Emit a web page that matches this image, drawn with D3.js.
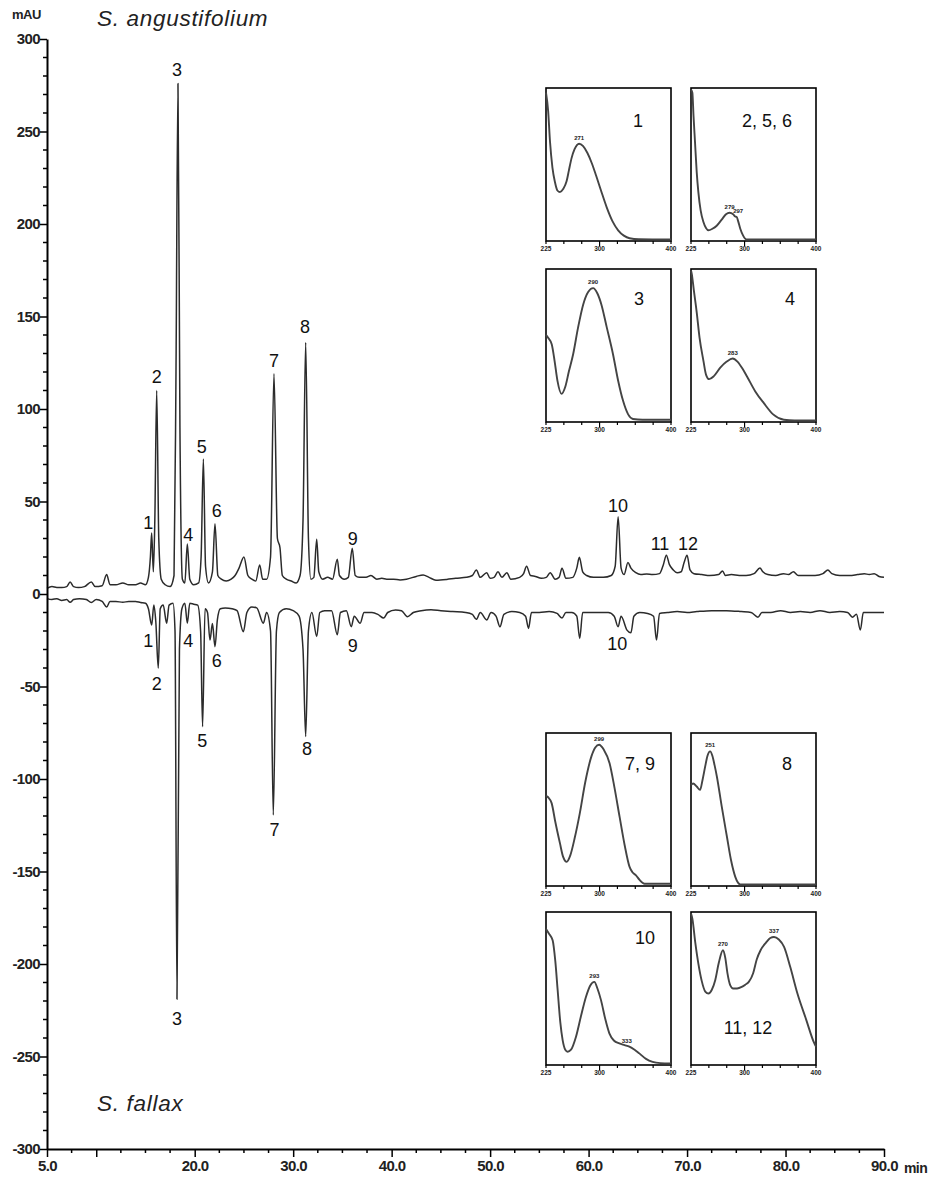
<!DOCTYPE html>
<html>
<head>
<meta charset="utf-8">
<script src="https://cdn.jsdelivr.net/npm/d3@7"></script>
<style>
  html, body { margin: 0; padding: 0; background: #fff; }
  svg { display: block; }
  text { font-family: "Liberation Sans", Arial, sans-serif; }
</style>
</head>
<body>
<svg id="chart" width="936" height="1186"></svg>
<script>
// ---------------- DATA ----------------
// Retention-time ticks (min)
const xMajorTicks = [5, 10, 20, 30, 40, 50, 60, 70, 80, 90];
const xTickLabels = ["5.0", "", "20.0", "30.0", "40.0", "50.0", "60.0", "70.0", "80.0", "90.0"];
const yMajorTicks = [-300, -250, -200, -150, -100, -50, 0, 50, 100, 150, 200, 250, 300];
const yTickLabels = ["-300", "-250", "-200", "-150", "-100", "-50", "0", "50", "100", "150", "200", "250", "300"];

// S. angustifolium chromatogram [time (min), mAU]
const angustifolium = [
  [5.0,3],[5.5,4],[6.0,3.5],[6.5,3.5],[7.0,4],[7.35,6.5],[7.7,4],[8.2,3.5],[8.8,4],[9.5,6.5],[9.9,4],
  [10.6,4.5],[11.06,10.5],[11.4,5],[12,5],[12.7,6],[13.3,5],[14.0,5],[14.5,6],[15.0,5],[15.3,9],[15.5,20],
  [15.63,33],[15.8,12],[15.95,40],[16.14,110],[16.35,30],[16.6,8],[17.0,5],[17.5,4],[17.9,10],[18.1,120],
  [18.3,276],[18.5,90],[18.75,8],[19.0,6],[19.25,27],[19.5,8],[19.9,5],[20.4,6],[20.65,20],[20.88,73],
  [21.1,15],[21.4,6],[21.8,12],[22.06,38],[22.35,10],[22.7,8],[23.2,7],[23.7,8],[24.1,10],[24.5,14],
  [25.0,20],[25.4,10],[25.8,8],[26.2,7],[26.6,15.7],[26.9,8],[27.3,8],[27.7,20],[28.05,119],[28.4,30],
  [28.66,25],[28.9,10],[29.3,8],[29.8,7],[30.3,6],[30.7,10],[31.0,40],[31.27,136],[31.55,30],[31.8,8],
  [32.1,9],[32.39,29.6],[32.6,12],[33.0,8],[33.5,9],[34.0,8],[34.48,18.8],[34.7,10],[35.2,8],[35.6,9],
  [36.0,24.7],[36.3,10],[36.7,9],[37.4,9],[37.9,10],[38.5,8],[39.0,8.5],[39.5,8],[40.2,8],[40.85,7.6],
  [41.5,8],[42.5,9.5],[43.2,10.3],[43.8,9],[44.5,7.5],[45.6,7.9],[46.5,8.5],[47.6,9],[48.2,10],[48.6,13],
  [49.0,9],[49.65,11.5],[50.0,8.5],[50.4,9],[50.8,12],[51.2,9],[51.7,11.5],[52.1,8],[53.0,9],[53.4,11],
  [53.7,15],[54.1,10],[54.6,9.5],[55.2,8.5],[55.7,9],[56.1,11.5],[56.6,8],[57.0,9],[57.3,13.9],[57.7,8.5],
  [58.4,9],[58.8,14],[59.06,19.8],[59.4,12],[59.8,10],[60.5,9],[61.5,9],[62.3,10],[62.7,15],[63.0,41.8],
  [63.3,14],[63.6,10.5],[64.0,17],[64.3,14],[64.8,11.5],[65.3,10.5],[65.9,10.8],[66.5,10.5],[67.2,11],
  [67.6,16],[67.9,21],[68.2,16],[68.6,13],[69.0,11.5],[69.4,12],[69.7,17],[70.0,21],[70.3,13],[70.7,11],
  [71.5,10.5],[72.3,10],[73.2,10.5],[73.6,12.5],[73.9,10],[74.5,10.5],[75.3,10],[76.0,10],[76.8,11],
  [77.4,14],[77.7,12],[78.2,10.5],[79.0,10],[79.8,11],[80.3,10.5],[80.8,12],[81.3,10],[82.0,10],[83.0,10],
  [83.8,11],[84.3,13],[84.7,11],[85.5,10],[86.5,10],[87.3,10.5],[88.0,11],[88.5,10.5],[89.0,11],[89.5,9.5],[90.0,9]
];

// S. fallax chromatogram (mirrored, negative) [time (min), mAU]
const fallax = [
  [5.0,-2.5],[5.5,-3],[6.0,-2.5],[6.5,-3.5],[7.0,-3],[7.35,-4.5],[7.7,-3],[8.3,-2.5],[9.0,-3],[9.5,-4.6],
  [10.0,-3],[10.6,-4],[11.06,-7],[11.4,-4],[12.0,-4],[12.7,-4.5],[13.3,-4],[14.0,-4],[14.5,-4.6],[15.0,-5],
  [15.3,-8],[15.63,-16.8],[15.85,-6],[16.05,-15],[16.3,-40],[16.5,-8],[16.8,-6],[17.15,-15.8],[17.4,-6],
  [17.8,-5],[18.0,-20],[18.2,-219],[18.45,-30],[18.7,-8],[19.0,-5],[19.25,-15.8],[19.5,-5],[19.9,-5.5],
  [20.3,-6],[20.6,-20],[20.8,-71.7],[21.05,-8],[21.3,-10],[21.55,-24.9],[21.8,-16],[22.06,-28.5],[22.3,-14],
  [22.6,-8],[23.1,-7.5],[23.8,-8],[24.3,-9],[24.94,-20.4],[25.3,-10],[25.8,-7],[26.3,-7.5],[26.97,-15.8],
  [27.3,-10],[27.7,-20],[27.98,-119.5],[28.3,-20],[28.6,-10],[29.3,-8],[30.0,-9],[30.6,-12],[31.0,-30],
  [31.27,-77],[31.55,-20],[31.9,-10],[32.39,-23],[32.7,-10],[33.2,-9],[33.9,-9],[34.48,-22],[34.8,-10],
  [35.4,-9],[35.9,-17.7],[36.2,-12],[36.8,-15.8],[37.2,-10],[38.0,-10],[38.6,-11],[39.2,-13],[39.6,-10],
  [40.4,-8.6],[41.0,-9],[41.6,-12.3],[42.2,-10],[43.0,-9],[44.0,-8.5],[45.0,-9],[46.2,-9.5],[47.5,-10],
  [48.2,-11],[48.6,-13.7],[49.0,-10],[49.65,-14],[50.1,-10],[50.6,-12],[51.0,-17.7],[51.4,-11],[52.2,-9.5],
  [53.0,-10],[53.6,-12],[53.9,-18.6],[54.2,-10],[55.0,-10],[56.0,-9.5],[56.8,-10.5],[57.3,-13],[57.7,-10],
  [58.3,-10],[58.8,-12],[59.1,-24],[59.4,-10],[60.2,-10],[61.0,-10],[62.0,-10],[62.6,-12],[63.0,-17.7],
  [63.3,-12],[63.9,-19.5],[64.3,-21],[64.6,-12],[65.2,-10],[66.0,-10.5],[66.6,-12],[66.9,-24.9],[67.2,-10.5],
  [68.0,-10],[69.0,-9.5],[70.0,-10],[71.0,-9.5],[72.5,-9],[74.0,-9],[75.5,-9.5],[76.5,-10],[77.2,-12.5],
  [77.6,-10],[78.5,-10],[79.5,-9],[80.5,-10],[81.5,-9.5],[82.5,-10],[83.5,-9],[84.5,-10],[85.5,-9.5],
  [86.3,-10],[86.8,-12.5],[87.2,-11],[87.6,-19.5],[87.9,-10],[88.5,-10],[89.5,-10],[90.0,-10]
];

// Peak labels: [text, time, mAU] (text baseline position)
const topPeakLabels = [
  ["1",15.29,35],["2",16.14,114],["3",18.2,280],["4",19.35,28.6],["5",20.71,76],["6",22.24,41.6],
  ["7",28.05,122.7],["8",31.2,141],["9",36.05,26.5],["10",63.0,44.3],["11",67.25,23.8],["12",70.1,23.8]
];
const bottomPeakLabels = [
  ["1",15.29,-28.6],["2",16.14,-51.9],["3",18.2,-233],["4",19.35,-28.6],["5",20.77,-82.7],["6",22.24,-39.5],
  ["7",28.1,-130.8],["8",31.4,-87],["9",36.05,-31.3],["10",62.9,-30.2]
];

// UV spectra insets: [wavelength (nm), relative absorbance]
const specWavelengths = [225, 400];
const specTicks = [225, 250, 275, 300, 325, 350, 375, 400];
const specTickLabels = ["225", "300", "400"];
const spec1 = [[225,0.97],[228,0.85],[230.6,0.65],[234,0.48],[237.5,0.386],[241,0.33],[244.5,0.32],[249,0.34],[253.8,0.39],[257,0.46],[260.7,0.54],[265,0.6],[271.4,0.636],[277,0.62],[283,0.575],[289,0.51],[295,0.43],[302,0.33],[310,0.22],[318,0.13],[326,0.07],[334,0.035],[342,0.018],[355,0.012],[400,0.01]];
const spec2 = [[225,0.99],[226.9,0.97],[228.5,0.82],[230.6,0.647],[233,0.45],[235.3,0.32],[238.5,0.2],[242.4,0.124],[246,0.085],[249.5,0.07],[255,0.08],[261,0.10],[268,0.14],[274,0.175],[279,0.185],[284,0.175],[287,0.16],[289,0.157],[291,0.13],[294,0.08],[298,0.035],[302.6,0.01],[400,0.01]];
const spec3 = [[225,0.57],[228,0.55],[233,0.508],[237,0.4],[241,0.27],[246.8,0.184],[252,0.23],[257,0.33],[263,0.443],[270,0.62],[277,0.767],[284,0.85],[290.9,0.875],[297,0.84],[302.6,0.767],[310,0.62],[318.8,0.443],[326,0.27],[332.8,0.14],[340,0.05],[346.7,0.02],[360,0.015],[400,0.015]];
const spec4 = [[225,0.99],[226,0.97],[229,0.86],[233,0.717],[237,0.55],[242.4,0.40],[246,0.31],[250.4,0.28],[257,0.3],[266,0.355],[275,0.395],[283.4,0.415],[290,0.395],[297,0.35],[303.6,0.296],[315,0.2],[327,0.123],[340,0.05],[355,0.015],[370,0.01],[400,0.01]];
const spec79 = [[225,0.59],[228,0.58],[233,0.54],[238,0.42],[244.5,0.28],[249,0.19],[254,0.158],[259,0.2],[265,0.31],[272.3,0.475],[280,0.68],[288.6,0.847],[294,0.905],[299.3,0.923],[306,0.89],[314,0.803],[321,0.64],[328,0.453],[335,0.27],[342,0.125],[346,0.09],[351,0.07],[356,0.04],[362.9,0.015],[400,0.015]];
const spec8 = [[225,0.66],[228,0.67],[233,0.65],[237.7,0.628],[241,0.69],[244.8,0.78],[248,0.85],[251.8,0.88],[255,0.85],[258,0.79],[261.2,0.716],[268,0.52],[275.3,0.322],[281,0.17],[287,0.06],[291,0.02],[294,0.01],[400,0.01]];
const spec10 = [[225,0.89],[229,0.86],[234.3,0.815],[238,0.68],[241.3,0.49],[245,0.28],[248.3,0.163],[252,0.1],[255.3,0.087],[260,0.1],[267,0.185],[274,0.32],[281,0.446],[287,0.52],[292.7,0.543],[297,0.5],[302,0.424],[308,0.3],[313.7,0.207],[320,0.16],[327.7,0.141],[335,0.13],[341.7,0.12],[349,0.1],[355.7,0.076],[365,0.04],[374.3,0.02],[385,0.012],[400,0.01]];
const spec1112 = [[225,0.99],[226.9,0.957],[231,0.8],[235.3,0.663],[240,0.55],[245,0.48],[249.5,0.467],[254,0.49],[258.9,0.554],[264,0.67],[269.7,0.75],[273,0.7],[276,0.6],[280,0.52],[284,0.5],[289.5,0.5],[296,0.51],[301,0.525],[305.9,0.543],[312,0.6],[317,0.69],[322.4,0.75],[330,0.8],[336,0.83],[341.2,0.837],[348,0.82],[355.3,0.772],[364,0.64],[374,0.467],[386,0.3],[397.7,0.141],[400,0.12]];

// Inset descriptors (data + annotation text)
const insets = [
  { data: spec1,    title: "1",       peaks: [["271",271.4,0.636]] },
  { data: spec2,    title: "2, 5, 6", peaks: [["279",279,0.185],["297",291,0.157]] },
  { data: spec3,    title: "3",       peaks: [["290",290.9,0.875]] },
  { data: spec4,    title: "4",       peaks: [["283",283.4,0.415]] },
  { data: spec79,   title: "7, 9",    peaks: [["299",299.3,0.923]] },
  { data: spec8,    title: "8",       peaks: [["251",251.8,0.88]] },
  { data: spec10,   title: "10",      peaks: [["293",292.7,0.543],["333",338,0.12]] },
  { data: spec1112, title: "11, 12",  peaks: [["270",269.7,0.75],["337",341.2,0.837]] }
];

// ---------------- DRAWING ----------------
const svg = d3.select("#chart");
const x = d3.scaleLinear().domain([5, 90]).range([47, 884]);
const y = d3.scaleLinear().domain([-300, 300]).range([1149, 39]);

const line = d3.line().x(d => x(d[0])).y(d => y(d[1])).curve(d3.curveMonotoneX);

// traces
svg.append("path").datum(angustifolium).attr("d", line)
  .attr("fill", "none").attr("stroke", "#2b2b2b").attr("stroke-width", 1.5).attr("stroke-linejoin", "round");
svg.append("path").datum(fallax).attr("d", line)
  .attr("fill", "none").attr("stroke", "#2b2b2b").attr("stroke-width", 1.5).attr("stroke-linejoin", "round");

// y axis
const yAxis = d3.axisLeft(y).tickValues(yMajorTicks).tickSize(7).tickSizeOuter(0)
  .tickFormat((d, i) => yTickLabels[i]);
const gy = svg.append("g").attr("transform", `translate(${x(5)},0)`).call(yAxis);
gy.select(".domain").attr("stroke-width", 2);
gy.selectAll(".tick line").attr("stroke-width", 1.5);
gy.selectAll(".tick text").attr("font-size", 15).attr("x", -7).attr("letter-spacing", -0.6)
  .attr("font-weight", "bold").attr("fill", "#222");
const yMinor = d3.range(-300, 301, 10).filter(v => v % 50 !== 0);
svg.append("g").selectAll("line").data(yMinor).join("line")
  .attr("x1", x(5) - 4).attr("x2", x(5)).attr("y1", d => y(d)).attr("y2", d => y(d))
  .attr("stroke", "#000").attr("stroke-width", 1.5);

// x axis
const xAxis = d3.axisBottom(x).tickValues(xMajorTicks).tickSize(8).tickSizeOuter(0)
  .tickFormat((d, i) => xTickLabels[i]);
const gx = svg.append("g").attr("transform", `translate(0,${y(-300)})`).call(xAxis);
gx.select(".domain").attr("stroke-width", 2);
gx.selectAll(".tick line").attr("stroke-width", 1.5);
gx.selectAll(".tick text").attr("font-size", 15).attr("y", 11).attr("letter-spacing", -0.6)
  .attr("font-weight", "bold").attr("fill", "#222");
const xMinor = d3.range(7.5, 90, 2.5).filter(v => v % 10 !== 0);
svg.append("g").selectAll("line").data(xMinor).join("line")
  .attr("x1", d => x(d)).attr("x2", d => x(d)).attr("y1", y(-300)).attr("y2", y(-300) + 4)
  .attr("stroke", "#000").attr("stroke-width", 1.5);
svg.append("text").attr("x", x(90) + 20).attr("y", y(-300) + 24).attr("font-size", 14)
  .attr("font-weight", "bold").attr("fill", "#222").attr("letter-spacing", -0.6).text("min");

svg.append("text").attr("x", 12).attr("y", 19).attr("font-size", 13).attr("font-weight", "bold")
  .attr("letter-spacing", -0.5).attr("fill", "#222").text("mAU");

// titles
svg.append("text").attr("x", 97).attr("y", 26).attr("font-size", 22.5).attr("font-style", "italic")
  .attr("letter-spacing", 0.7).attr("fill", "#222").text("S. angustifolium");
svg.append("text").attr("x", 97).attr("y", 1111).attr("font-size", 22.5).attr("font-style", "italic")
  .attr("letter-spacing", 0.7).attr("fill", "#222").text("S. fallax");

// peak labels
svg.append("g").selectAll("text").data(topPeakLabels).join("text")
  .attr("x", d => x(d[1])).attr("y", d => y(d[2]))
  .attr("text-anchor", "middle").attr("font-size", 18).attr("fill", "#111").text(d => d[0]);
svg.append("g").selectAll("text").data(bottomPeakLabels).join("text")
  .attr("x", d => x(d[1])).attr("y", d => y(d[2]))
  .attr("text-anchor", "middle").attr("font-size", 18).attr("fill", "#111").text(d => d[0]);

// insets
const insetCols = [546, 691];
const insetRows = [88, 269, 733, 912];
const insetW = 125, insetH = 153;
const titleOffsets = [[92,39],[76,39],[93,36],[99,36],[94,37],[96,37],[99,32],[57,122]];
insets.forEach((ins, i) => {
  const left = insetCols[i % 2], top = insetRows[Math.floor(i / 2)];
  const g = svg.append("g");
  const sx = d3.scaleLinear().domain(specWavelengths).range([left, left + insetW]);
  const sy = d3.scaleLinear().domain([0, 1]).range([top + insetH, top]);
  g.append("rect").attr("x", left).attr("y", top).attr("width", insetW).attr("height", insetH)
    .attr("fill", "#fff").attr("stroke", "#000").attr("stroke-width", 1.6);
  const sl = d3.line().x(d => sx(d[0])).y(d => sy(d[1])).curve(d3.curveMonotoneX);
  g.append("path").datum(ins.data).attr("d", sl).attr("fill", "none")
    .attr("stroke", "#444").attr("stroke-width", 1.9);
  g.selectAll("line.t").data(specTicks).join("line")
    .attr("x1", d => sx(d)).attr("x2", d => sx(d))
    .attr("y1", top + insetH).attr("y2", d => top + insetH + (d === 300 ? 5 : 3))
    .attr("stroke", "#000").attr("stroke-width", 1.2);
  g.selectAll("text.tl").data(specTickLabels).join("text")
    .attr("x", d => sx(+d)).attr("y", top + insetH + 10).attr("text-anchor", "middle")
    .attr("font-size", 6.5).attr("font-weight", "bold").attr("fill", "#222").text(d => d);
  g.append("text").attr("x", left + titleOffsets[i][0]).attr("y", top + titleOffsets[i][1])
    .attr("text-anchor", "middle").attr("font-size", 18).attr("fill", "#111").text(ins.title);
  g.selectAll("text.pk").data(ins.peaks).join("text")
    .attr("x", d => sx(d[1])).attr("y", d => sy(d[2]) - 4).attr("text-anchor", "middle")
    .attr("font-size", 6).attr("font-weight", "bold").attr("fill", "#222").text(d => d[0]);
});
</script>
</body>
</html>
